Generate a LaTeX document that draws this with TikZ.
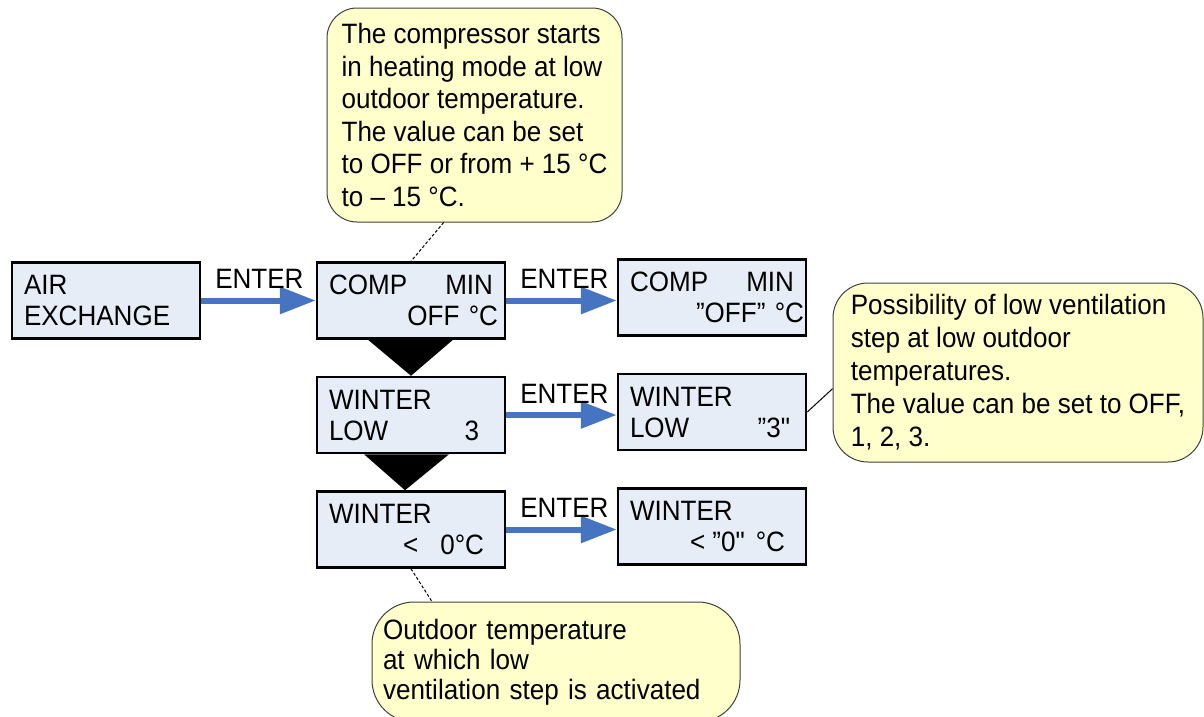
\documentclass[tikz,border=0pt]{standalone}
\usepackage{fontspec}
\newfontfamily\panelfont{Liberation Sans}[FakeStretch=0.93]
\usepackage{xcolor}
\usepackage{tikz}
\usetikzlibrary{arrows.meta, positioning}
\definecolor{lcdblue}{RGB}{230,237,247}
\definecolor{notefill}{RGB}{255,255,204}
\definecolor{enterblue}{RGB}{70,116,192}
\tikzstyle{lcd} = [rectangle, draw=black, line width=2.5pt, fill=lcdblue, minimum width=188pt, minimum height=76pt, text width=164pt, align=left, inner sep=0pt]
\tikzstyle{note} = [rectangle, rounded corners=30pt, draw=black!75, line width=1pt, fill=notefill, align=left, inner sep=0pt]
\tikzstyle{arrow} = [line width=6pt, draw=enterblue, -{Triangle[length=36pt, width=26pt]}]
\tikzstyle{enter} = [pos=0, anchor=south west, inner sep=0pt, xshift=11pt, yshift=9pt, text=black]
\tikzstyle{callline} = [line width=1pt, dash pattern=on 3pt off 2pt]

\begin{document}
\begin{tikzpicture}[x=1pt, y=-1pt, node distance=114.5pt, font=\panelfont\fontsize{28pt}{31pt}\selectfont]
\useasboundingbox (0,0) rectangle (1204,716);
\node (comp) [lcd] at (411,300.5) {COMP\hfill MIN\\\hspace*{\fill}OFF °C\kern-5pt};
\node (air) [lcd, left of=comp, node distance=305pt] {AIR\\EXCHANGE};
\node (comp2) [lcd, right of=comp, node distance=301pt, yshift=3pt] {COMP\hfill MIN\\\hspace*{\fill}”OFF” °C\kern-10pt};
\node (winter) [lcd, below of=comp] {WINTER\\LOW\hfill 3\kern14pt};
\node (winter2) [lcd, right of=winter, node distance=301pt, yshift=3pt] {WINTER\\LOW\hfill ”3"\kern4pt};
\node (limit) [lcd, below of=winter] {WINTER\\\hspace*{\fill}<\hspace{22pt}0°C\kern9pt};
\node (limit2) [lcd, right of=limit, node distance=301pt, yshift=3pt] {WINTER\\\hspace*{\fill}<\hspace{7pt}”0"\hspace{11pt}°C\kern9pt};

\node (note1) [note, minimum width=295pt, minimum height=214pt, font=\panelfont\fontsize{28pt}{32.5pt}\selectfont] at (474.5,115) {The compressor starts\\in heating mode at low\\outdoor temperature.\\The value can be set\\to OFF or from + 15 °C\\to – 15 °C.};
\node (note2) [note, rounded corners=35pt, minimum width=370pt, minimum height=179pt, font=\panelfont\fontsize{28pt}{33pt}\selectfont] at (1018,372.5) {Possibility of low ventilation\\step at low outdoor\\temperatures.\\The value can be set to OFF,\\1, 2, 3.};
\node (note3) [note, rounded corners=42pt, minimum width=368pt, minimum height=120pt, text width=346pt, font=\panelfont\fontsize{28pt}{30pt}\selectfont] at (556,662) {Outdoor temperature\\at which low\\ventilation step is activated};

\draw [arrow] (air.east) -- node[enter] {ENTER} (comp.west);
\draw [arrow] (comp.east) -- node[enter] {ENTER} (comp.east -| comp2.west);
\draw [arrow] (winter.east) -- node[enter] {ENTER} (winter.east -| winter2.west);
\draw [arrow] (limit.east) -- node[enter] {ENTER} (limit.east -| limit2.west);

\fill ([xshift=-43pt]comp.south) -- ([xshift=42pt]comp.south) -- (winter.north) -- cycle;
\fill ([xshift=-47pt]winter.south) -- ([xshift=38pt]winter.south) -- ([xshift=-6pt]limit.north) -- cycle;

\draw [callline] (note1.254) -- (comp.north);
\draw [line width=1pt] (winter2.east) -- (note2.185);
\draw [callline] (limit.south) -- (note3.154);
\end{tikzpicture}
\end{document}
